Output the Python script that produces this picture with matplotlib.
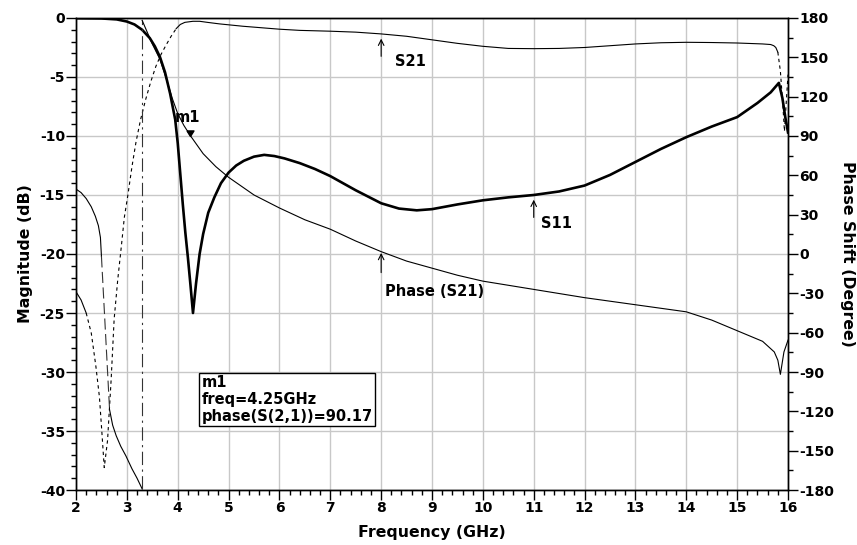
import numpy as np
import matplotlib
matplotlib.use("Agg")
import matplotlib.pyplot as plt
from matplotlib.ticker import MultipleLocator

plt.rcParams['font.family'] = ['DejaVu Sans']
plt.rcParams['font.weight'] = 'bold'
plt.rcParams['axes.labelweight'] = 'bold'
plt.rcParams['axes.unicode_minus'] = False
plt.rcParams['font.size'] = 10

# S11 magnitude (dB)
s11_f = [2.0, 2.5, 2.8, 3.0, 3.15, 3.3, 3.45, 3.55, 3.65, 3.75, 3.85, 3.95, 4.0,
         4.05, 4.1, 4.15, 4.2, 4.25, 4.3, 4.36, 4.43, 4.5, 4.6, 4.72, 4.85, 5.0,
         5.15, 5.3, 5.5, 5.7, 5.9, 6.1, 6.4, 6.7, 7.0, 7.5, 8.0, 8.35, 8.7, 9.0,
         9.5, 10.0, 10.5, 11.0, 11.5, 12.0, 12.5, 13.0, 13.5, 14.0, 14.5, 15.0,
         15.4, 15.66, 15.82, 15.89, 15.95, 16.0]
s11_db = [-0.02, -0.04, -0.12, -0.3, -0.55, -1.0, -1.7, -2.4, -3.3, -4.6, -6.4,
          -8.6, -10.6, -13.2, -15.8, -18.2, -20.3, -22.6, -25.0, -22.5, -20.0,
          -18.3, -16.5, -15.2, -14.0, -13.1, -12.5, -12.1, -11.75, -11.6, -11.7,
          -11.9, -12.3, -12.8, -13.4, -14.6, -15.7, -16.15, -16.3, -16.2, -15.8,
          -15.45, -15.2, -15.0, -14.7, -14.2, -13.3, -12.2, -11.1, -10.1, -9.2,
          -8.4, -7.2, -6.3, -5.5, -6.8, -8.5, -9.7]

# S21 magnitude (dB)
s21_f = [2.0, 2.1, 2.2, 2.3, 2.39, 2.46, 2.51, 2.555, 2.62, 2.69, 2.75, 2.82,
         2.89, 2.95, 3.02, 3.1, 3.18, 3.27, 3.37, 3.47, 3.57, 3.67, 3.77, 3.87,
         3.97, 4.05, 4.14, 4.3, 4.43, 4.6, 4.82, 5.28, 6.0, 6.4, 7.0, 7.5, 8.0,
         8.5, 9.0, 9.5, 10.0, 10.5, 11.0, 11.5, 12.0, 12.5, 13.0, 13.5, 14.0,
         14.5, 15.0, 15.5, 15.66, 15.72, 15.76, 15.8, 15.85, 15.9, 15.93, 15.96,
         16.0]
s21_db = [-23.2, -23.9, -25.0, -26.7, -29.5, -32.1, -35.2, -38.1, -35.8, -30.7,
          -25.5, -22.2, -19.4, -16.9, -15.0, -12.6, -10.5, -8.6, -6.9, -5.4,
          -4.1, -3.1, -2.3, -1.55, -0.9, -0.55, -0.37, -0.28, -0.28, -0.38, -0.5,
          -0.7, -0.95, -1.05, -1.12, -1.2, -1.35, -1.55, -1.85, -2.15, -2.4,
          -2.58, -2.6, -2.58, -2.5, -2.35, -2.2, -2.1, -2.06, -2.08, -2.12, -2.2,
          -2.25, -2.35, -2.5, -2.9, -4.5, -7.5, -9.6, -7.5, -4.8]

# phase of S21 (degree), wraps at 3.3 GHz
ph_f = [2.0, 2.1, 2.2, 2.3, 2.38, 2.44, 2.48, 2.5, 2.66, 2.72, 2.79, 2.88, 2.98,
        3.1, 3.2, 3.3, 3.3, 3.4, 3.5, 3.65, 3.8, 3.9, 4.0, 4.12, 4.25, 4.5, 4.75,
        5.0, 5.5, 6.0, 6.5, 7.0, 7.5, 8.0, 8.5, 9.0, 9.5, 10.0, 11.0, 12.0, 13.0,
        14.0, 14.5, 15.0, 15.5, 15.73, 15.8, 15.85, 15.92, 16.0]
ph_deg = [49.5, 46.8, 42.3, 36.0, 28.8, 21.6, 12.6, -1.8, -118.8, -130.5, -138.6,
          -146.7, -153.9, -163.8, -171.0, -179.1, 178.2, 169.2, 160.2, 148.5,
          130.5, 117.9, 107.1, 98.1, 90.17, 76.5, 66.6, 58.5, 45.0, 35.1, 26.1,
          18.9, 9.9, 1.8, -5.4, -10.8, -16.2, -20.7, -27.0, -33.3, -38.7, -44.1,
          -50.4, -58.5, -66.6, -74.7, -81.0, -91.8, -74.7, -65.7]

m1_freq = 4.25
m1_phase = 90.17

s11_f = np.array(s11_f); s11_db = np.array(s11_db)
s21_f = np.array(s21_f); s21_db = np.array(s21_db)
ph_f = np.array(ph_f); ph_deg = np.array(ph_deg)

fig = plt.figure(figsize=(8.57, 5.45), dpi=100)
ax = fig.add_axes([0.0887, 0.1009, 0.8308, 0.8661])
ax2 = ax.twinx()

thin = 0.8
ax.plot(s11_f, s11_db, color='k', lw=1.9, solid_joinstyle='round')

# S21: the steep parts come out dotted
flat_lo = s21_f <= 2.2
flat_mid = (s21_f >= 3.97) & (s21_f <= 15.8)
lo = (s21_f >= 2.2) & (s21_f <= 3.97)
hi = s21_f >= 15.8
ax.plot(s21_f[flat_lo], s21_db[flat_lo], color='k', lw=thin)
ax.plot(s21_f[flat_mid], s21_db[flat_mid], color='k', lw=thin)
ax.plot(s21_f[lo], s21_db[lo], color='k', lw=thin, ls=(0, (3, 3)))
ax.plot(s21_f[hi], s21_db[hi], color='k', lw=thin, ls=(0, (3, 3)))

# phase: jumps drawn with their own dash patterns
jump_styles = [(0, (10, 4)), (0, (12, 4, 2, 4))]
jumps = np.where(np.abs(np.diff(ph_deg)) > 60)[0]
start = 0
for k, j in enumerate(jumps):
    ax2.plot(ph_f[start:j + 1], ph_deg[start:j + 1], color='k', lw=thin)
    ax2.plot(ph_f[j:j + 2], ph_deg[j:j + 2], color='#333333', lw=thin,
             ls=jump_styles[k])
    start = j + 1
ax2.plot(ph_f[start:], ph_deg[start:], color='k', lw=thin)

# marker m1
ax2.plot([m1_freq], [m1_phase], color='k', ls='none', ms=8,
         marker=[(-1, 1.6), (1, 1.6), (0, 0), (-1, 1.6)])
ax2.annotate('m1', (m1_freq, m1_phase), xytext=(-2, 8),
             textcoords='offset points', ha='center', va='bottom', fontsize=10.5)
ax.text(4.47, -30.25,
        f'm1\nfreq={m1_freq}GHz\nphase(S(2,1))={m1_phase}',
        ha='left', va='top', fontsize=10.5, linespacing=1.15,
        bbox=dict(boxstyle='square,pad=0.15', fc='white', ec='k', lw=1))

# trace labels
arrow = dict(arrowstyle='->', color='k', lw=0.8, shrinkA=0, shrinkB=0)
y = np.interp(8.0, s21_f, s21_db) - 0.4
ax.annotate('', xy=(8.0, y), xytext=(8.0, y - 1.5), arrowprops=arrow)
ax.text(8.27, y - 1.9, 'S21', ha='left', va='center', fontsize=10.5)
y = np.interp(11.0, s11_f, s11_db) - 0.4
ax.annotate('', xy=(11.0, y), xytext=(11.0, y - 1.5), arrowprops=arrow)
ax.text(11.15, y - 2.0, 'S11', ha='left', va='center', fontsize=10.5)
y = np.interp(8.0, ph_f[start:], ph_deg[start:]) - 1.0
ax2.annotate('', xy=(8.0, y), xytext=(8.0, y - 15), arrowprops=arrow)
ax2.text(8.07, y - 29.5, 'Phase (S21)', ha='left', va='center', fontsize=10.5)

ax.set_xlim(2, 16)
ax.set_ylim(-40, 0)
ax2.set_ylim(-180, 180)
ax.xaxis.set_major_locator(MultipleLocator(1))
ax.xaxis.set_minor_locator(MultipleLocator(0.2))
ax.yaxis.set_major_locator(MultipleLocator(5))
ax.yaxis.set_minor_locator(MultipleLocator(1))
ax2.yaxis.set_major_locator(MultipleLocator(30))
ax2.yaxis.set_minor_locator(MultipleLocator(15))

ax.grid(True, which='major', color='#c8c8c8', lw=1)
ax.set_axisbelow(True)
for a in (ax, ax2):
    a.tick_params(which='major', length=7, width=1, pad=1, labelsize=10)
    a.tick_params(which='minor', length=3.5, width=1)
    for s in a.spines.values():
        s.set_linewidth(1)

ax.set_xlabel('Frequency (GHz)', fontsize=11.3, labelpad=7)
ax.set_ylabel('Magnitude (dB)', fontsize=11.3, labelpad=5)
ax2.set_ylabel('Phase Shift (Degree)', fontsize=11.3, rotation=270, labelpad=15)

fig.savefig('out.png', dpi=100)
